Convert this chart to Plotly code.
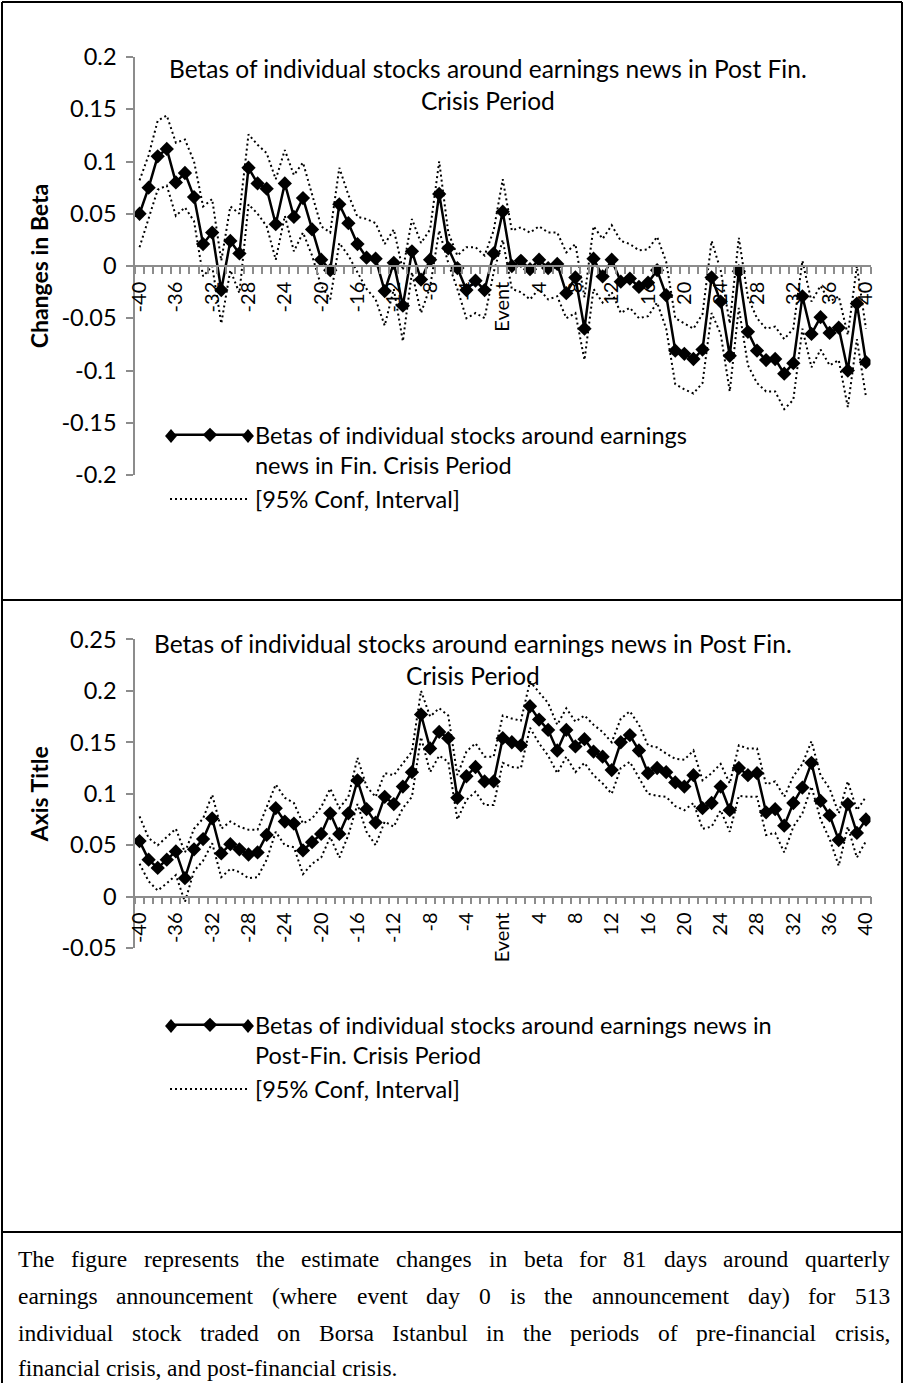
import plotly.graph_objects as go

W, H = 904, 1383

# ---------------- data ----------------
days = list(range(-40, 41))
tick_vals = list(range(-40, 41, 4))
tick_text = ["Event" if v == 0 else str(v) for v in tick_vals]

# Top panel: betas around earnings news (Fin. Crisis Period), d-40 .. d40
fin_beta = [0.050, 0.075, 0.105, 0.112, 0.080, 0.089, 0.066, 0.021, 0.032, -0.023,
            0.024, 0.012, 0.094, 0.079, 0.074, 0.040, 0.079, 0.047, 0.065, 0.035,
            0.006, -0.004, 0.059, 0.041, 0.021, 0.008, 0.007, -0.024, 0.003, -0.038,
            0.014, -0.013, 0.006, 0.069, 0.017, -0.002, -0.023, -0.014, -0.023, 0.012,
            0.052,
            0.000, 0.005, -0.003, 0.006, -0.002, 0.002, -0.026, -0.011, -0.060, 0.007,
            -0.010, 0.006, -0.015, -0.012, -0.020, -0.016, -0.004, -0.028, -0.081, -0.084,
            -0.089, -0.080, -0.011, -0.034, -0.086, -0.005, -0.063, -0.081, -0.090, -0.089,
            -0.103, -0.093, -0.029, -0.065, -0.049, -0.064, -0.059, -0.100, -0.036, -0.092]
fin_upper = [0.082, 0.106, 0.139, 0.144, 0.118, 0.121, 0.100, 0.057, 0.064, 0.005,
             0.057, 0.050, 0.126, 0.116, 0.108, 0.083, 0.111, 0.087, 0.099, 0.069,
             0.038, 0.032, 0.094, 0.068, 0.047, 0.045, 0.041, 0.021, 0.035, -0.004,
             0.045, 0.022, 0.035, 0.100, 0.032, 0.010, 0.018, 0.018, 0.010, 0.034,
             0.083,
             0.034, 0.037, 0.032, 0.038, 0.032, 0.032, 0.013, 0.021, -0.030, 0.038,
             0.026, 0.039, 0.024, 0.021, 0.015, 0.016, 0.028, 0.004, -0.050, -0.055,
             -0.060, -0.046, 0.024, -0.004, -0.055, 0.027, -0.030, -0.050, -0.060, -0.058,
             -0.070, -0.060, 0.005, -0.034, -0.019, -0.034, -0.029, -0.066, 0.000, -0.060]
fin_lower = [0.018, 0.045, 0.073, 0.077, 0.048, 0.056, 0.043, -0.010, 0.000, -0.055,
             -0.004, -0.026, 0.059, 0.050, 0.038, 0.006, 0.048, 0.014, 0.032, 0.010,
             -0.019, -0.032, 0.022, 0.010, -0.006, -0.022, -0.032, -0.057, -0.022, -0.072,
             -0.006, -0.045, -0.020, 0.034, 0.003, -0.022, -0.050, -0.045, -0.050, -0.006,
             0.025,
             -0.022, -0.025, -0.032, -0.022, -0.032, -0.029, -0.050, -0.045, -0.090, -0.022,
             -0.035, -0.025, -0.045, -0.040, -0.050, -0.048, -0.035, -0.060, -0.113, -0.118,
             -0.122, -0.112, -0.045, -0.065, -0.120, -0.040, -0.095, -0.112, -0.120, -0.120,
             -0.137, -0.128, -0.060, -0.097, -0.080, -0.095, -0.090, -0.135, -0.070, -0.125]

# Bottom panel: betas around earnings news (Post-Fin. Crisis Period)
post_beta = [0.054, 0.036, 0.028, 0.036, 0.044, 0.018, 0.046, 0.056, 0.076, 0.042,
             0.051, 0.046, 0.041, 0.043, 0.060, 0.086, 0.073, 0.071, 0.045, 0.053,
             0.061, 0.081, 0.061, 0.081, 0.113, 0.085, 0.072, 0.097, 0.090, 0.107,
             0.121, 0.177, 0.144, 0.160, 0.154, 0.096, 0.117, 0.126, 0.112, 0.112,
             0.154,
             0.150, 0.147, 0.185, 0.172, 0.162, 0.142, 0.162, 0.146, 0.153, 0.141,
             0.136, 0.123, 0.150, 0.157, 0.142, 0.120, 0.125, 0.121, 0.111, 0.107,
             0.118, 0.086, 0.091, 0.107, 0.084, 0.125, 0.118, 0.120, 0.082, 0.085,
             0.069, 0.091, 0.106, 0.130, 0.093, 0.079, 0.055, 0.090, 0.062, 0.075]
post_upper = [0.078, 0.057, 0.050, 0.058, 0.066, 0.043, 0.066, 0.076, 0.099, 0.066,
              0.073, 0.068, 0.065, 0.065, 0.088, 0.109, 0.096, 0.091, 0.071, 0.076,
              0.087, 0.105, 0.086, 0.097, 0.135, 0.107, 0.097, 0.120, 0.118, 0.129,
              0.141, 0.200, 0.175, 0.183, 0.176, 0.118, 0.141, 0.149, 0.136, 0.136,
              0.176,
              0.173, 0.171, 0.209, 0.198, 0.188, 0.167, 0.183, 0.170, 0.176, 0.167,
              0.160, 0.150, 0.173, 0.180, 0.167, 0.147, 0.145, 0.139, 0.134, 0.133,
              0.142, 0.113, 0.120, 0.129, 0.110, 0.147, 0.144, 0.144, 0.109, 0.112,
              0.097, 0.117, 0.129, 0.151, 0.118, 0.105, 0.081, 0.112, 0.084, 0.097]
post_lower = [0.032, 0.015, 0.006, 0.013, 0.021, -0.005, 0.025, 0.035, 0.052, 0.019,
              0.027, 0.024, 0.018, 0.019, 0.036, 0.063, 0.050, 0.048, 0.022, 0.032,
              0.038, 0.058, 0.038, 0.060, 0.090, 0.063, 0.050, 0.073, 0.068, 0.086,
              0.097, 0.155, 0.121, 0.137, 0.131, 0.075, 0.094, 0.102, 0.089, 0.089,
              0.130,
              0.126, 0.125, 0.164, 0.149, 0.137, 0.120, 0.136, 0.121, 0.130, 0.118,
              0.110, 0.100, 0.125, 0.131, 0.116, 0.100, 0.098, 0.097, 0.088, 0.084,
              0.091, 0.066, 0.068, 0.084, 0.063, 0.098, 0.097, 0.097, 0.060, 0.062,
              0.043, 0.068, 0.081, 0.107, 0.075, 0.056, 0.030, 0.068, 0.038, 0.054]

y1_vals = [-0.2, -0.15, -0.1, -0.05, 0, 0.05, 0.1, 0.15, 0.2]
y1_text = ["-0.2", "-0.15", "-0.1", "-0.05", "0", "0.05", "0.1", "0.15", "0.2"]
y2_vals = [-0.05, 0, 0.05, 0.1, 0.15, 0.2, 0.25]
y2_text = ["-0.05", "0", "0.05", "0.1", "0.15", "0.2", "0.25"]

title_top = "Betas of individual stocks around earnings news in Post Fin.<br>Crisis Period"
title_bot = "Betas of individual stocks around earnings news in Post Fin.<br>Crisis Period"
leg_top = "Betas of individual stocks around earnings<br>news in Fin. Crisis Period"
leg_bot = "Betas of individual stocks around earnings news in<br>Post-Fin. Crisis Period"
leg_ci = "[95% Conf, Interval]"
caption_lines = [
    "The figure represents the estimate changes in beta for 81 days around quarterly",
    "earnings announcement (where event day 0 is the announcement day) for 513",
    "individual stock traded on Borsa Istanbul in the periods of pre-financial crisis,",
    "financial crisis, and post-financial crisis.",
]

# ---------------- helpers ----------------
def px(x):
    return x / W

def py(y):
    return 1 - y / H

SANS = "Lato"
AX = "#8c8c8c"
half_ticks = [d - 0.5 for d in days] + [40.5]

fig = go.Figure()

def add_panel(beta, up, lo, name, xa, ya, legend):
    for arr, show in ((up, True), (lo, False)):
        fig.add_trace(go.Scatter(
            x=days, y=arr, mode="lines", name=leg_ci, legend=legend,
            xaxis=xa, yaxis=ya, showlegend=show, legendrank=2,
            line=dict(color="black", width=2, dash="2px,3px"),
            hoverinfo="skip"))
    fig.add_trace(go.Scatter(
        x=days, y=beta, mode="lines+markers", name=name, legend=legend,
        xaxis=xa, yaxis=ya, legendrank=1,
        line=dict(color="black", width=2.5),
        marker=dict(symbol="diamond", size=11, color="black")))

add_panel(fin_beta, fin_upper, fin_lower, leg_top, "x", "y", "legend")
add_panel(post_beta, post_upper, post_lower, leg_bot, "x2", "y2", "legend2")

xcommon = dict(
    range=[-40.5, 40.5], domain=[px(135), px(870.5)],
    tickmode="array", tickvals=tick_vals, ticktext=tick_text, tickangle=-90,
    tickfont=dict(family=SANS, size=20, color="black"),
    ticks="outside", ticklen=7, tickcolor="rgba(0,0,0,0)", ticklabelstandoff=0,
    showline=True, linecolor=AX, linewidth=1.5,
    showgrid=False, zeroline=False, anchor="free",
    minor=dict(tickmode="array", tickvals=half_ticks, ticks="outside",
               ticklen=7, tickcolor=AX, tickwidth=1.5, showgrid=False),
)
ycommon = dict(
    tickmode="array", ticks="outside", ticklen=7, tickcolor=AX, tickwidth=1.5,
    tickfont=dict(family=SANS, size=23.5, color="black"), ticklabelstandoff=5,
    showline=True, linecolor=AX, linewidth=1.5,
    showgrid=False, zeroline=False,
)

top_y0, top_y1 = 57.0, 475.0
bot_y0, bot_y1 = 639.3, 948.2

legend_common = dict(xanchor="left", yanchor="top",
                     font=dict(family=SANS, size=23.5, color="black"),
                     itemwidth=80, valign="top", bgcolor="rgba(0,0,0,0)",
                     tracegroupgap=0, itemclick=False)

fig.update_layout(
    width=W, height=H, template="none",
    margin=dict(l=0, r=0, t=0, b=0),
    paper_bgcolor="white", plot_bgcolor="rgba(0,0,0,0)",
    font=dict(family=SANS, color="black"),
    xaxis=dict(**xcommon, position=py((top_y0 + top_y1) / 2)),
    yaxis=dict(**ycommon, range=[-0.2, 0.2], tickvals=y1_vals, ticktext=y1_text,
               domain=[py(top_y1), py(top_y0)], anchor="x",
               title=dict(text="<b>Changes in Beta</b>", standoff=6,
                          font=dict(family=SANS, size=23, color="black"))),
    xaxis2=dict(**xcommon, position=py(896.7)),
    yaxis2=dict(**ycommon, range=[-0.05, 0.25], tickvals=y2_vals, ticktext=y2_text,
                domain=[py(bot_y1), py(bot_y0)], anchor="x2",
                title=dict(text="<b>Axis Title</b>", standoff=6,
                           font=dict(family=SANS, size=23, color="black"))),
    legend=dict(**legend_common, x=px(165), y=py(413)),
    legend2=dict(**legend_common, x=px(165), y=py(1003)),
    showlegend=True,
)

# chart titles
fig.add_annotation(text=title_top, x=px(488), y=py(84), xref="paper", yref="paper",
                   showarrow=False, xanchor="center", yanchor="middle",
                   font=dict(family=SANS, size=24.5, color="black"))
fig.add_annotation(text=title_bot, x=px(473), y=py(659), xref="paper", yref="paper",
                   showarrow=False, xanchor="center", yanchor="middle",
                   font=dict(family=SANS, size=24.5, color="black"))

# Excel-style legend key: extra diamonds at both ends of the line sample
def diamond_path(cx, cy, r=7.0):
    return "M {a},{b} L {c},{d} L {a},{e} L {f},{d} Z".format(
        a=px(cx), b=py(cy - r), c=px(cx + r * 0.85), d=py(cy),
        e=py(cy + r), f=px(cx - r * 0.85))

for cy in (436, 1026):
    for cx in (171, 248):
        fig.add_shape(type="path", xref="paper", yref="paper",
                      path=diamond_path(cx, cy), fillcolor="black",
                      line=dict(color="black", width=0))

# borders of the figure table (open at the bottom edge)
border = dict(color="black", width=2)
for (x0, y0, x1, y1) in ((2, 2, 902, 2), (2, 2, 2, 1383), (902, 2, 902, 1383),
                         (2, 600, 902, 600), (2, 1232, 902, 1232)):
    fig.add_shape(type="line", xref="paper", yref="paper",
                  x0=px(x0), x1=px(x1), y0=py(y0), y1=py(y1), line=border)

# justified caption (Times metrics -> Liberation Serif)
TW = {' ': 250, 'a': 444, 'b': 500, 'c': 444, 'd': 500, 'e': 444, 'f': 333, 'g': 500,
      'h': 500, 'i': 278, 'j': 278, 'k': 500, 'l': 278, 'm': 778, 'n': 500, 'o': 500,
      'p': 500, 'q': 500, 'r': 333, 's': 389, 't': 278, 'u': 500, 'v': 500, 'w': 722,
      'x': 500, 'y': 500, 'z': 444, 'T': 611, 'I': 333, 'B': 667, 'F': 556,
      '(': 333, ')': 333, ',': 250, '.': 250, '-': 333}

def tw(word, fs):
    return sum(TW.get(c, 500) for c in word) * fs / 1000.0

CAP_FS = 23.5
cap_left, cap_right = 17.0, 889.0
cap_y = [1259, 1296, 1333, 1368]
for i, line in enumerate(caption_lines):
    words = line.split()
    widths = [tw(w, CAP_FS) for w in words]
    if i < len(caption_lines) - 1:
        gap = (cap_right - cap_left - sum(widths)) / (len(words) - 1)
    else:
        gap = TW[' '] * CAP_FS / 1000.0
    xcur = cap_left
    for w, wd in zip(words, widths):
        fig.add_annotation(text=w, x=px(xcur), y=py(cap_y[i]), xref="paper", yref="paper",
                           showarrow=False, xanchor="left", yanchor="middle",
                           borderpad=0,
                           font=dict(family="Liberation Serif", size=CAP_FS, color="black"))
        xcur += wd + gap

fig.write_html("out.html", config={"displayModeBar": False},
               post_script="document.body.style.margin='0px';")
